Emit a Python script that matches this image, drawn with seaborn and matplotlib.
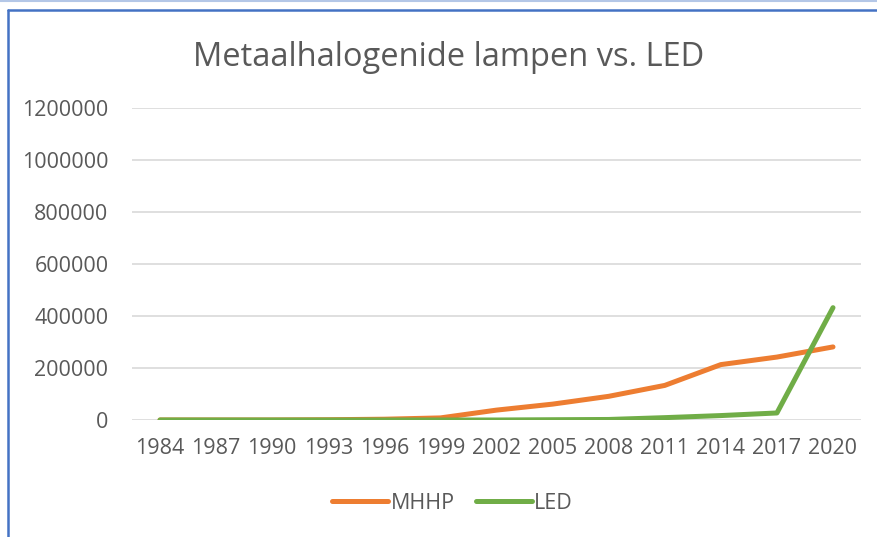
import numpy as np
import pandas as pd
import seaborn as sns
import matplotlib.pyplot as plt
from matplotlib.lines import Line2D

# data
years = [1984, 1987, 1990, 1993, 1996, 1999, 2002, 2005, 2008, 2011, 2014, 2017, 2020]
mhhp = [0, 0, 0, 1000, 3000, 8000, 38000, 61000, 91000, 133000, 213000, 242000, 281000]
led = [0, 0, 0, 0, 0, 0, 0, 1000, 2000, 9000, 17000, 27000, 432000]
series = ["MHHP", "LED"]
colors = ["#ED7D31", "#70AD47"]

df = pd.DataFrame({
    "pos": list(range(len(years))) * 2,
    "waarde": mhhp + led,
    "serie": ["MHHP"] * len(years) + ["LED"] * len(years),
})

sns.set_theme(style="white")
plt.rcParams['font.family'] = ['Open Sans', 'DejaVu Sans']
text_color = "#595959"

fig = plt.figure(figsize=(8.77, 5.37), dpi=100)
ax = fig.add_axes([0.1505, 0.2179, 0.8313, 0.581])

sns.lineplot(data=df, x="pos", y="waarde", hue="serie", hue_order=series,
             palette=colors, linewidth=3.6, ax=ax, legend=False,
             solid_capstyle="round", solid_joinstyle="round")

ax.set_xlim(-0.5, len(years) - 0.5)
ax.set_ylim(0, 1200000)
ax.set_yticks(np.arange(0, 1200001, 200000))
ax.set_yticklabels([str(v) for v in range(0, 1200001, 200000)])
ax.set_xticks(range(len(years)))
ax.set_xticklabels([str(y) for y in years])
ax.tick_params(axis="both", length=0, labelsize=15.5, labelcolor=text_color)
ax.tick_params(axis="x", pad=13)
ax.tick_params(axis="y", pad=17)
ax.grid(axis="y", color="#D9D9D9", linewidth=1.2)
ax.set_axisbelow(True)
for s in ax.spines.values():
    s.set_visible(False)
ax.set_xlabel("")
ax.set_ylabel("")

fig.text(0.512, 0.893, "Metaalhalogenide lampen vs. LED", ha="center", va="center",
         fontsize=23.5, color=text_color)

handles = [Line2D([], [], color=c, linewidth=3.6, solid_capstyle="round") for c in colors]
fig.legend(handles, series, loc="center", bbox_to_anchor=(0.516, 0.063), ncol=2,
           frameon=False, fontsize=15.5, labelcolor=text_color,
           handlelength=2.6, handletextpad=0.1, columnspacing=1.0)

# rand van het grafiekvak
fig.add_artist(Line2D([0, 1], [0.999, 0.999], color="#B4C7E7", linewidth=1.5))
fig.add_artist(Line2D([0.0095, 1], [0.981, 0.981], color="#4472C4", linewidth=1.8))
fig.add_artist(Line2D([0.0095, 0.0095], [0, 0.981], color="#4472C4", linewidth=1.8))

fig.savefig("out.png", dpi=100)
